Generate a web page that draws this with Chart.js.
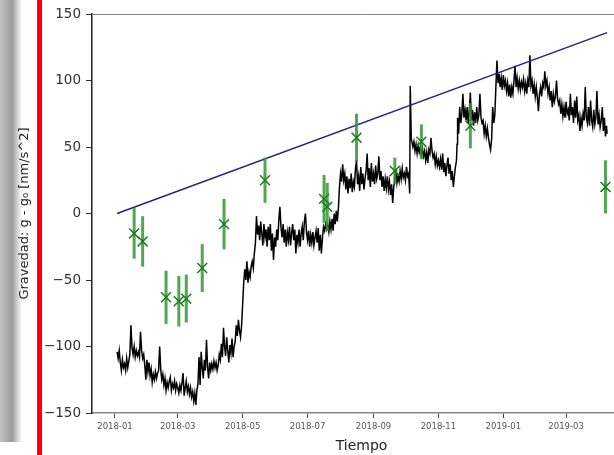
<!DOCTYPE html>
<html>
<head>
<meta charset="utf-8">
<script src="https://cdn.jsdelivr.net/npm/chart.js@4.4.1/dist/chart.umd.min.js"></script>
<style>
  html, body { margin: 0; padding: 0; background: #fff; overflow: hidden; }
  #wrap { position: relative; width: 614px; height: 455px; overflow: hidden; }
  #sombra { position: absolute; left: 0; top: 0; width: 22px; height: 442px;
    background: linear-gradient(to right, #c2c2c2 0%, #9c9c9c 55%, #ffffff 100%); }
  #grafico { position: absolute; left: 0; top: 0; }
  #barraRoja { position: absolute; left: 37px; top: 0; width: 5px; height: 455px; background: #f00; }
</style>
</head>
<body>
<div id="wrap">
  <div id="sombra"></div>
  <canvas id="grafico" width="640" height="455"></canvas>
  <div id="barraRoja"></div>
</div>
<script>
// dias desde 2018-01-01
const tickDays = [0, 59, 120, 181, 243, 304, 365, 424];
const tickLabels = ['2018-01', '2018-03', '2018-05', '2018-07', '2018-09', '2018-11', '2019-01', '2019-03'];

// serie continua del gravimetro [dia, nm/s^2]
const gravitySeries = [
  [2,-104],[3,-109],[4,-103],[5,-112],[6,-118],[7,-110],[8,-116],[9,-113],[10,-118],[11,-109],
  [12,-116],[13,-111],[14,-106],[15,-84],[16,-101],[17,-106],[18,-100],[19,-108],[20,-103],[21,-107],
  [22,-104],[23,-108],[24,-89],[25,-103],[26,-109],[27,-106],[28,-114],[29,-125],[30,-110],[31,-119],
  [32,-112],[33,-122],[34,-117],[35,-127],[36,-121],[37,-125],[38,-119],[39,-124],[40,-120],[41,-118],
  [42,-100],[43,-117],[44,-125],[45,-121],[46,-129],[47,-124],[48,-133],[49,-127],[50,-131],[51,-126],
  [52,-123],[53,-133],[54,-128],[55,-131],[56,-126],[57,-133],[58,-128],[59,-131],[60,-135],[61,-129],
  [62,-133],[63,-127],[64,-120],[65,-137],[66,-131],[67,-126],[68,-134],[69,-130],[70,-136],[71,-131],
  [72,-138],[73,-134],[74,-141],[75,-135],[76,-144],[77,-133],[78,-128],[79,-108],[80,-129],[81,-104],
  [82,-116],[83,-124],[84,-110],[85,-118],[86,-95],[87,-115],[88,-124],[89,-112],[90,-118],[91,-113],
  [92,-117],[93,-111],[94,-116],[95,-112],[96,-118],[97,-114],[98,-106],[99,-110],[100,-98],[101,-108],
  [102,-86],[103,-100],[104,-107],[105,-93],[106,-103],[107,-112],[108,-99],[109,-105],[110,-94],[111,-108],
  [112,-100],[113,-96],[114,-84],[115,-92],[116,-80],[117,-88],[118,-93],[119,-84],[120,-68],[121,-52],
  [122,-42],[123,-50],[124,-36],[125,-52],[126,-44],[127,-48],[128,-40],[129,-36],[130,-41],[131,-30],
  [132,-22],[133,-2],[134,-16],[135,-9],[136,-20],[137,-6],
  [138,-15],[139,-24],[140,-8],[141,-18],[142,-12],[143,-25],[144,-10],[145,-20],[146,-8],[147,-28],
  [148,-15],[149,-35],[150,-18],[151,-25],[152,-12],[153,-20],[154,-5],[155,5],[156,-10],[157,-18],
  [158,-8],[159,-22],[160,-12],[161,-25],[162,-14],[163,-20],[164,-10],[165,-24],[166,-15],[167,-8],
  [168,-20],[169,-12],[170,-30],[171,-16],[172,-22],[173,-12],[174,-25],[175,-15],[176,-10],[177,-20],
  [178,-6],[179,0],[180,-14],[181,-20],[182,-13],[183,-25],[184,-16],[185,-22],[186,-14],[187,-24],
  [188,-18],[189,-13],[190,-22],[191,-11],[192,-28],[193,-16],[194,-30],[195,-18],[196,-10],[197,-13],
  [198,-8],[199,-12],[200,-9],[201,-14],[202,-6],[203,-12],[204,-4],[205,-13],[206,0],[207,-8],
  [208,2],[209,-6],[210,4],[211,20],[212,30],[213,24],[214,37],[215,25],
  [216,30],[217,18],[218,28],[219,15],[220,26],[221,19],[222,30],[223,16],[224,24],[225,20],
  [226,33],[227,40],[228,22],[229,28],[230,17],[231,35],[232,22],[233,30],[234,18],[235,26],
  [236,32],[237,45],[238,25],[239,34],[240,20],[241,38],[242,24],[243,30],[244,22],[245,36],
  [246,26],[247,30],[248,43],[249,25],[250,32],[251,20],[252,28],[253,17],[254,26],[255,19],
  [256,28],[257,18],[258,24],[259,14],[260,22],[261,8],[262,20],[263,25],[264,33],[265,23],
  [266,28],[267,24],[268,32],[269,26],[270,34],[271,27],[272,30],[273,25],[274,35],[275,28],
  [276,30],[277,15],[277.5,96],[278.5,56],
  [279,56],[280,50],[281,54],[282,47],[283,52],[284,45],[285,51],[286,46],[287,50],[288,44],
  [289,49],[290,43],[291,47],[292,40],[293,46],[294,38],[295,48],[296,45],[297,57],[298,47],
  [299,42],[300,45],[301,37],[302,43],[303,36],[304,40],[305,35],[306,41],[307,33],[308,45],
  [309,31],[310,38],[311,28],[312,36],[313,42],[314,30],[315,37],[316,25],[317,32],[318,20],
  [319,28],[320,35],[321,40],
  [321.5,52],[322,72],[323,60],[324,80],[325,68],[326,75],[327,90],[328,72],[329,78],[330,70],
  [331,80],[332,68],[333,76],[334,91],[335,70],[336,78],[337,66],[338,76],[339,68],[340,80],
  [341,70],[342,74],[343,90],[344,72],[345,68],[346,70],[347,60],[348,66],[349,58],[350,64],
  [351,57],[352,52],[353,48],[354,56],[355,80],[356,68],[357,74],[358,95],[359,115],[360,98],
  [361,105],[362,95],[363,102],[364,93],[365,104],[366,96],[367,100],[368,92],[369,98],[370,88],
  [371,97],[372,87],[373,95],[374,90],[375,100],[376,111],[377,95],[378,102],[379,94],[380,100],
  [381,93],[382,99],[383,95],[384,101],[385,92],[386,98],[387,90],[388,100],[389,95],[390,119],
  [391,96],[392,100],[393,90],[394,97],[395,88],[396,95],[397,87],[398,77],[399,90],[400,95],
  [401,88],[402,98],[403,95],[404,107],[405,96],[406,100],[407,90],[408,95],[409,85],[410,92],
  [411,80],[412,90],[413,84],[414,88],[415,100],[416,86],[417,82],[418,85],[419,75],[420,82],
  [421,73],[422,80],[423,72],[424,84],[425,75],[426,78],[427,70],[428,90],[429,74],[430,80],
  [431,68],[432,85],[433,72],[434,88],[435,70],[436,74],[437,62],[438,72],[439,66],[440,75],
  [441,70],[442,95],[443,72],[444,68],[445,80],[446,66],[447,85],[448,70],[449,65],[450,78],
  [451,67],[452,72],[453,92],[454,67],[455,74],[456,65],[457,70],[458,80],[459,62],[460,72],
  [461,58],[462,66],[462.5,60]
];

// tendencia (linea azul)
const trendDays = [2, 462.5];
const trendValues = [0, 136];

// mediciones absolutas con su incertidumbre
const markerDays = [18, 26, 48, 60, 67, 82, 102.5, 141, 196.5, 199.5, 227, 263, 288, 334, 461];
const markerValues = [-15, -21, -63, -66, -64, -41, -8, 25, 11, 5, 57, 32, 54, 66, 20];
const markerErrors = [19, 19, 20, 19, 18, 18, 19, 17, 18, 18, 18, 10, 13, 17, 20];

const verdeBarra = 'rgba(50,150,50,0.85)';
const verdeMarca = '#1d7a1d';

const errorSets = markerDays.map((d, i) => ({
    type: 'line',
    data: [{ x: d, y: markerValues[i] - markerErrors[i] }, { x: d, y: markerValues[i] + markerErrors[i] }],
    borderColor: verdeBarra,
    borderWidth: 3,
    pointRadius: 0,
    order: 1
}));

const bordeSuperior = {
    id: 'bordeSuperior',
    afterDraw(chart) {
        const { ctx, chartArea } = chart;
        ctx.save();
        ctx.strokeStyle = '#888';
        ctx.lineWidth = 1;
        ctx.beginPath();
        ctx.moveTo(chartArea.left, chartArea.top + 0.5);
        ctx.lineTo(chartArea.right, chartArea.top + 0.5);
        ctx.stroke();
        ctx.restore();
    }
};

const ctx = document.getElementById('grafico').getContext('2d');
new Chart(ctx, {
    type: 'scatter',
    data: {
        datasets: [
            {
                type: 'scatter',
                data: markerDays.map((d, i) => ({ x: d, y: markerValues[i] })),
                pointStyle: 'crossRot',
                pointRadius: 7,
                borderColor: verdeMarca,
                borderWidth: 1.5,
                order: 0
            },
            ...errorSets,
            {
                type: 'line',
                data: trendDays.map((d, i) => ({ x: d, y: trendValues[i] })),
                borderColor: '#23237e',
                borderWidth: 1.4,
                pointRadius: 0,
                order: 2
            },
            {
                type: 'line',
                data: gravitySeries.map(p => ({ x: p[0], y: p[1] })),
                borderColor: '#000',
                borderWidth: 1.5,
                pointRadius: 0,
                tension: 0,
                order: 3
            }
        ]
    },
    options: {
        responsive: false,
        animation: false,
        events: [],
        plugins: {
            legend: { display: false },
            tooltip: { enabled: false }
        },
        layout: { padding: { top: 14, right: 9, left: 0, bottom: 0 } },
        scales: {
            x: {
                type: 'linear',
                min: -21.6,
                max: 485,
                afterBuildTicks: s => { s.ticks = tickDays.map(v => ({ value: v })); },
                afterFit: s => { s.height = 42; },
                ticks: {
                    autoSkip: false,
                    maxRotation: 0,
                    callback: (v, i) => tickLabels[i],
                    font: { family: 'DejaVu Sans', size: 8.5 },
                    color: '#555',
                    padding: 4
                },
                grid: { drawOnChartArea: false, tickLength: 5, tickColor: '#444' },
                border: { color: '#888', width: 1.5 },
                title: {
                    display: true,
                    text: 'Tiempo',
                    font: { family: 'DejaVu Sans', size: 14 },
                    color: '#222',
                    padding: { top: 0, bottom: 0 }
                }
            },
            y: {
                min: -150,
                max: 150,
                afterFit: s => { s.width = 92; },
                ticks: {
                    stepSize: 50,
                    callback: v => String(v).replace('-', '\u2212'),
                    font: { family: 'DejaVu Sans', size: 13.5 },
                    color: '#333',
                    padding: 5
                },
                grid: { drawOnChartArea: false, tickLength: 6, tickColor: '#333' },
                border: { color: '#222', width: 1.5 },
                title: {
                    display: true,
                    text: 'Gravedad: g - g\u2080 [nm/s^2]',
                    font: { family: 'DejaVu Sans', size: 13 },
                    color: '#222',
                    padding: { top: 17, bottom: 0 }
                }
            }
        }
    },
    plugins: [bordeSuperior]
});
</script>
</body>
</html>
